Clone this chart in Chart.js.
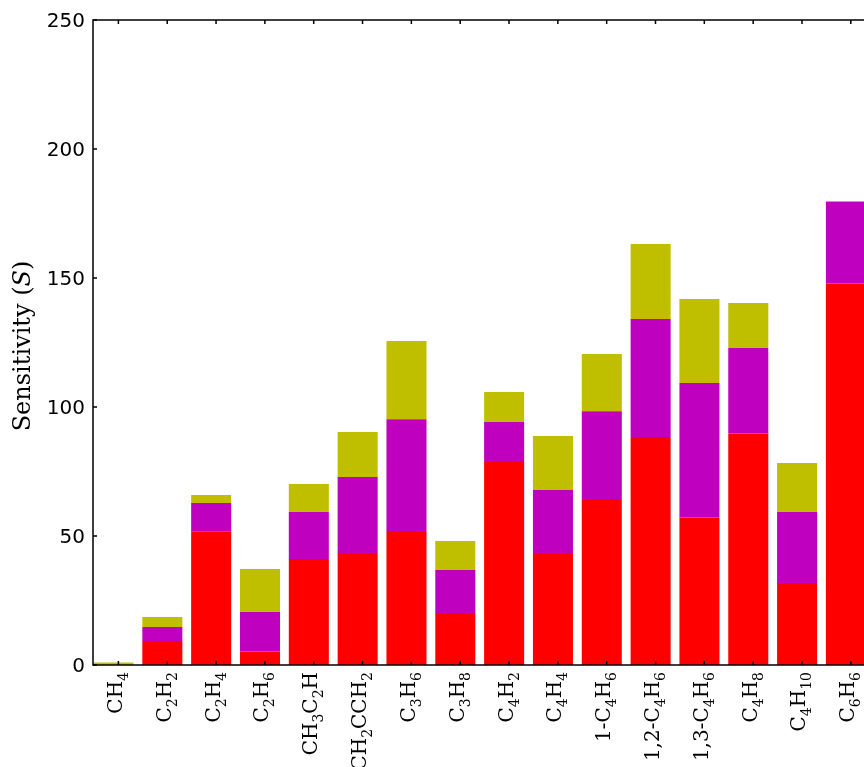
<!DOCTYPE html>
<html>
<head>
<meta charset="utf-8">
<script src="https://cdn.jsdelivr.net/npm/chart.js@4/dist/chart.umd.min.js"></script>
<style>
  html, body { margin: 0; padding: 0; background: #fff; overflow: hidden; }
  canvas { display: block; }
</style>
</head>
<body>
<canvas id="chart" width="864" height="767"></canvas>
<script>
// Species along the x axis; "_" starts a subscript (single char or {group})
const categories = ['CH_4', 'C_2H_2', 'C_2H_4', 'C_2H_6', 'CH_3C_2H', 'CH_2CCH_2', 'C_3H_6', 'C_3H_8',
  'C_4H_2', 'C_4H_4', '1-C_4H_6', '1,2-C_4H_6', '1,3-C_4H_6', 'C_4H_8', 'C_4H_{10}', 'C_6H_6'];

// Stacked sensitivity contributions (bottom to top)
const redPart     = [0.0, 9.3, 51.8, 5.2, 41.1, 43.4, 51.9, 20.2, 79.1, 43.4, 64.3, 88.4, 57.2, 89.7, 31.8, 147.9];
const magentaPart = [0.0, 5.4, 11.0, 15.3, 18.2, 29.5, 43.4, 16.6, 15.1, 24.4, 34.1, 45.7, 52.1, 33.2, 27.5, 31.6];
const olivePart   = [1.0, 3.9, 3.1, 16.7, 10.9, 17.4, 30.3, 11.3, 11.6, 21.0, 22.1, 29.1, 32.6, 17.4, 19.0, 0.3];

const yTicks = [0, 50, 100, 150, 200, 250];
const yTitle = [['Sensitivity (', 'normal'], ['S', 'italic'], [')', 'normal']];

// tick marks sit slightly right of each bar centre
const tickShift = 0.1;

function parseLabel(s) {
  const parts = [];
  let i = 0, buf = '';
  while (i < s.length) {
    if (s[i] === '_') {
      if (buf) { parts.push({ t: buf, sub: false }); buf = ''; }
      i++;
      if (s[i] === '{') {
        const j = s.indexOf('}', i);
        parts.push({ t: s.slice(i + 1, j), sub: true });
        i = j + 1;
      } else {
        parts.push({ t: s[i], sub: true });
        i++;
      }
    } else {
      buf += s[i];
      i++;
    }
  }
  if (buf) parts.push({ t: buf, sub: false });
  return parts;
}

const MAIN_FONT = '20px "DejaVu Serif"';
const SUB_FONT = '14px "DejaVu Serif"';

const framePlugin = {
  id: 'frame',
  afterDraw(chart) {
    const { ctx, chartArea: a, scales: { x, y } } = chart;
    ctx.save();
    ctx.strokeStyle = '#000';
    ctx.lineWidth = 1.5;

    // axes box (left, bottom, top)
    ctx.beginPath();
    ctx.moveTo(a.right + 2, a.top);
    ctx.lineTo(a.left, a.top);
    ctx.lineTo(a.left, a.bottom);
    ctx.lineTo(a.right + 2, a.bottom);
    ctx.stroke();

    // inward tick marks
    ctx.beginPath();
    x.ticks.forEach(t => {
      const px = x.getPixelForValue(t.value);
      ctx.moveTo(px, a.bottom); ctx.lineTo(px, a.bottom - 4);
      ctx.moveTo(px, a.top); ctx.lineTo(px, a.top + 4);
    });
    y.ticks.forEach(t => {
      const py = y.getPixelForValue(t.value);
      ctx.moveTo(a.left, py); ctx.lineTo(a.left + 4, py);
    });
    ctx.stroke();

    // rotated category labels with subscripts
    ctx.fillStyle = '#000';
    ctx.textBaseline = 'alphabetic';
    ctx.textAlign = 'left';
    categories.forEach((c, i) => {
      const parts = parseLabel(c);
      let w = 0;
      parts.forEach(p => { ctx.font = p.sub ? SUB_FONT : MAIN_FONT; p.w = ctx.measureText(p.t).width; w += p.w; });
      const px = x.getPixelForValue(i + tickShift);
      ctx.save();
      ctx.translate(px, a.bottom + 7);
      ctx.rotate(-Math.PI / 2);
      let cx = -w;
      parts.forEach(p => {
        ctx.font = p.sub ? SUB_FONT : MAIN_FONT;
        ctx.fillText(p.t, cx, p.sub ? 9.5 : 3.5);
        cx += p.w;
      });
      ctx.restore();
    });

    // y axis title
    let tw = 0;
    yTitle.forEach(p => { ctx.font = p[1] + ' 24px "DejaVu Serif"'; tw += ctx.measureText(p[0]).width; });
    ctx.save();
    ctx.translate(30, 346);
    ctx.rotate(-Math.PI / 2);
    let tx = -tw / 2;
    yTitle.forEach(p => {
      ctx.font = p[1] + ' 24px "DejaVu Serif"';
      ctx.fillText(p[0], tx, 0);
      tx += ctx.measureText(p[0]).width;
    });
    ctx.restore();

    ctx.restore();
  }
};

const toPoints = arr => arr.map((v, i) => ({ x: i, y: v }));

new Chart(document.getElementById('chart').getContext('2d'), {
  type: 'bar',
  data: {
    datasets: [
      { label: 'red', data: toPoints(redPart), backgroundColor: '#ff0000' },
      { label: 'magenta', data: toPoints(magentaPart), backgroundColor: '#bf00bf' },
      { label: 'olive', data: toPoints(olivePart), backgroundColor: '#bfbf00' }
    ]
  },
  options: {
    responsive: false,
    animation: false,
    devicePixelRatio: 1,
    layout: { padding: { top: 20, right: 0, left: 0, bottom: 0 } },
    plugins: { legend: { display: false }, tooltip: { enabled: false } },
    datasets: { bar: { categoryPercentage: 1, barPercentage: 0.82, borderWidth: 0 } },
    scales: {
      x: {
        type: 'linear',
        stacked: true,
        offset: false,
        min: -0.42,
        max: 15.37,
        grid: { display: false, drawTicks: false },
        border: { display: false },
        ticks: { display: false },
        afterBuildTicks: s => { s.ticks = categories.map((_, i) => ({ value: i + tickShift })); },
        afterFit: s => { s.height = 102; }
      },
      y: {
        stacked: true,
        min: 0,
        max: 250,
        grid: { display: false, drawTicks: false },
        border: { display: false },
        ticks: {
          stepSize: 50,
          padding: 8,
          labelOffset: 1.5,
          color: '#000',
          font: { family: 'DejaVu Sans', size: 20 }
        },
        afterBuildTicks: s => { s.ticks = yTicks.map(v => ({ value: v })); },
        afterFit: s => { s.width = 93; }
      }
    }
  },
  plugins: [framePlugin]
});
</script>
</body>
</html>
